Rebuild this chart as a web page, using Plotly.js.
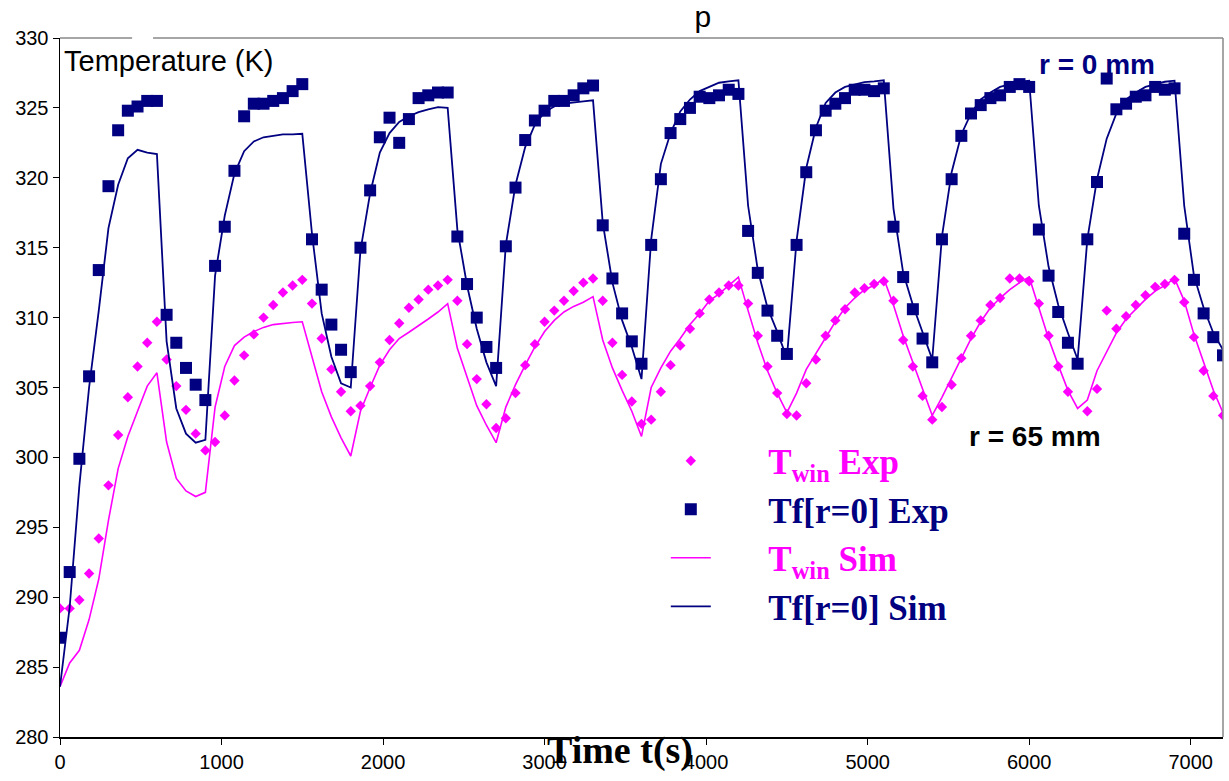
<!DOCTYPE html>
<html><head><meta charset="utf-8">
<script src="https://cdn.plot.ly/plotly-3.0.1.min.js"></script>
<style>html,body{margin:0;padding:0;background:#fff}#chart{width:1229px;height:781px}</style>
</head><body><div id="chart"></div>
<script>
// time (s) of each sample
const timeS = [0,60,120,180,240,300,360,420,480,540,600,660,720,780,840,900,960,1020,1080,1140,1200,1260,1320,1380,1440,1500,1560,1620,1680,1740,1800,1860,1920,1980,2040,2100,2160,2220,2280,2340,2400,2460,2520,2580,2640,2700,2760,2820,2880,2940,3000,3060,3120,3180,3240,3300,3360,3420,3480,3540,3600,3660,3720,3780,3840,3900,3960,4020,4080,4140,4200,4260,4320,4380,4440,4500,4560,4620,4680,4740,4800,4860,4920,4980,5040,5100,5160,5220,5280,5340,5400,5460,5520,5580,5640,5700,5760,5820,5880,5940,6000,6060,6120,6180,6240,6300,6360,6420,6480,6540,6600,6660,6720,6780,6840,6900,6960,7020,7080,7140,7200];

// Tf[r=0] experimental (K)
const tfExp = [287.1,291.8,299.9,305.8,313.4,319.4,323.4,324.8,325.1,325.5,325.5,
310.2,308.2,306.4,305.2,304.1,
313.7,316.5,320.5,324.4,325.3,325.3,325.5,325.7,326.2,326.7,
315.6,312.0,309.5,307.7,306.1,
315.0,319.1,322.9,324.3,322.5,324.2,325.7,325.9,326.1,326.1,
315.8,312.4,310.0,307.9,306.4,
315.1,319.3,322.7,324.1,324.8,325.5,325.5,325.9,326.4,326.6,
316.6,312.8,310.3,308.3,306.7,
315.2,319.9,323.2,324.2,325.0,325.8,325.7,325.9,326.3,326.0,
316.2,313.2,310.5,308.7,307.4,
315.2,320.4,323.4,324.8,325.3,325.7,326.3,326.3,326.2,326.4,
316.5,312.9,310.6,308.5,306.8,
315.6,319.9,323.0,324.6,325.2,325.7,325.9,326.5,326.7,326.5,
316.3,313.0,310.4,308.2,306.7,
315.6,319.7,327.1,324.9,325.3,325.8,325.9,326.5,326.3,326.4,
316.0,312.7,310.3,308.6,307.3];

// T_win experimental (K)
const twinExp = [289.2,289.2,289.8,291.7,294.2,298.0,301.6,304.3,306.5,308.2,309.7,
307.0,305.1,303.4,301.7,300.5,
301.1,303.0,305.5,307.3,308.8,310.0,310.9,311.8,312.3,312.7,
311.0,308.5,306.3,304.7,303.3,
303.7,305.1,306.8,308.4,309.6,310.7,311.3,312.0,312.3,312.7,
311.2,308.1,305.6,303.8,302.1,
302.8,304.6,306.6,308.1,309.7,310.5,311.2,311.9,312.5,312.8,
311.2,308.2,305.9,304.0,302.4,
302.7,304.7,306.6,308.0,309.2,310.3,311.3,311.8,312.3,312.3,
311.0,308.7,306.5,304.6,303.1,
303.0,305.3,307.0,308.7,309.8,310.6,311.8,312.1,312.4,312.6,
311.2,308.4,306.5,304.4,302.7,
303.6,305.2,307.1,308.7,309.8,310.9,311.4,312.8,312.8,312.6,
311.0,308.7,306.5,304.7,null,
303.3,304.9,310.5,309.2,310.1,310.9,311.6,312.2,312.4,312.7,
311.1,308.6,306.2,304.4,303.0];

// Tf[r=0] simulated (K)
const tfSim = [283.6,289.3,298.0,305.0,310.5,316.4,319.5,321.4,322.0,321.8,321.7,
308.3,303.5,301.7,301.05,301.25,
313.0,317.3,320.3,321.9,322.6,322.9,323.0,323.1,323.1,323.15,
316.0,310.3,307.2,305.3,305.0,
314.8,318.9,321.8,323.2,324.0,324.4,324.7,324.9,325.05,325.0,
316.3,312.3,309.2,306.8,305.1,
315.2,319.5,322.2,323.8,324.7,325.1,325.3,325.4,325.47,325.54,
316.8,312.5,309.8,307.9,305.6,
315.6,321.0,323.2,324.75,325.6,326.2,326.5,326.8,326.9,326.97,
318.0,313.4,310.7,309.0,307.1,
315.5,320.7,323.6,325.35,326.1,326.5,326.7,326.85,326.9,326.97,
317.8,313.2,310.9,308.9,307.0,
315.8,320.4,323.1,324.6,325.6,326.1,326.5,326.7,326.87,326.95,
318.0,313.65,310.9,308.9,307.0,
315.6,319.9,322.8,324.6,325.6,326.1,326.5,326.7,326.87,326.95,
318.0,313.0,310.7,308.9,307.7];

// T_win simulated (K)
const twinSim = [283.6,285.3,286.2,288.4,291.3,295.5,299.2,301.5,303.3,305.1,306.05,
301.1,298.5,297.6,297.2,297.5,
303.6,306.5,308.0,308.6,309.0,309.3,309.5,309.6,309.65,309.7,
307.1,304.7,302.9,301.4,300.1,
303.3,305.0,306.6,307.7,308.5,308.95,309.4,309.9,310.4,311.0,
307.8,305.7,303.7,302.3,301.05,
303.6,305.2,306.6,307.9,309.0,309.8,310.4,310.8,311.1,311.5,
308.4,306.4,304.8,303.3,301.5,
305.0,306.4,307.6,308.5,309.5,310.3,311.2,311.7,312.3,312.9,
310.5,308.2,306.2,304.6,303.2,
304.6,306.3,307.4,308.5,309.7,310.7,311.4,312.0,312.3,312.8,
310.9,308.7,306.8,304.9,303.0,
304.3,305.7,307.2,308.5,309.7,310.7,311.4,312.0,312.5,312.9,
310.7,308.5,306.6,304.8,303.5,
304.1,306.2,307.6,308.9,309.9,310.6,311.3,311.9,312.3,312.8,
311.2,308.8,306.8,304.8,303.2];

const xTicks = [0,1000,2000,3000,4000,5000,6000,7000];
const yTicks = [280,285,290,295,300,305,310,315,320,325,330];

const NAVY = '#000080', MAG = '#ff00ff';
const PAD = '\u00a0\u00a0\u00a0\u00a0\u00a0\u00a0';

const traces = [
  {x: timeS, y: twinExp, type:'scatter', mode:'markers', name:PAD+'<span style="color:#ff00ff">T<sub>win</sub> Exp</span>',
   marker:{symbol:'diamond', size:8, color:MAG}},
  {x: timeS, y: tfExp, type:'scatter', mode:'markers', name:PAD+'<span style="color:#000080">Tf[r=0] Exp</span>',
   marker:{symbol:'square', size:12, color:NAVY}},
  {x: timeS, y: twinSim, type:'scatter', mode:'lines', name:PAD+'<span style="color:#ff00ff">T<sub>win</sub> Sim</span>',
   line:{color:MAG, width:1.6}},
  {x: timeS, y: tfSim, type:'scatter', mode:'lines', name:PAD+'<span style="color:#000080">Tf[r=0] Sim</span>',
   line:{color:NAVY, width:1.8}}
];

const tickFont = {family:'Liberation Sans, Arial, sans-serif', size:20, color:'#000'};
const layout = {
  width:1229, height:781,
  paper_bgcolor:'#fff', plot_bgcolor:'#fff',
  margin:{l:60, r:6, t:38, b:44},
  title:{text:'p', x:0.5527, xanchor:'center', xref:'paper', y:0.979, yanchor:'middle',
         font:{family:'Liberation Sans, Arial, sans-serif', size:30, color:'#000'}},
  xaxis:{range:[0,7200], tickvals:xTicks, ticks:'outside', ticklen:6, tickcolor:'#000', tickwidth:1,
         showline:true, linecolor:'#000', linewidth:1.5, showgrid:false, zeroline:false, tickfont:tickFont},
  yaxis:{range:[280,330], tickvals:yTicks, ticks:'outside', ticklen:6, tickcolor:'#000', tickwidth:1,
         showline:true, linecolor:'#000', linewidth:1.5, showgrid:false, zeroline:false, tickfont:tickFont},
  xaxis2:{overlaying:'x', anchor:'y', range:[0,7200], tickvals:xTicks, ticks:'inside', ticklen:6, tickcolor:'#000',
          showticklabels:false, showline:false, showgrid:false, zeroline:false},
  yaxis2:{overlaying:'y', anchor:'x', range:[280,330], tickvals:yTicks, ticks:'inside', ticklen:6, tickcolor:'#000',
          showticklabels:false, showline:false, showgrid:false, zeroline:false},
  showlegend:true,
  legend:{x:0.5209, y:0.437, xanchor:'left', yanchor:'top', bgcolor:'rgba(0,0,0,0)', borderwidth:0,
          itemwidth:40, tracegroupgap:0,
          font:{family:'Liberation Serif, Times New Roman, serif', size:35, weight:'bold', color:NAVY}},
  shapes:[
    {type:'line', xref:'paper', yref:'paper', x0:0, x1:0.062, y0:1, y1:1, line:{color:'#888', width:1.5}},
    {type:'line', xref:'paper', yref:'paper', x0:0.08, x1:1, y0:1, y1:1, line:{color:'#888', width:1.5}},
    {type:'line', xref:'paper', yref:'paper', x0:1, x1:1, y0:0, y1:1, line:{color:'#888', width:1.5}}
  ],
  annotations:[
    {text:'Temperature (K)', xref:'paper', yref:'paper', x:0, xshift:2, y:0.9675, xanchor:'left', yanchor:'middle',
     showarrow:false, font:{family:'Liberation Sans, Arial, sans-serif', size:29, color:'#000'}},
    {text:'<b>r = 0 mm</b>', xref:'paper', yref:'paper', x:0.840, y:0.9618, xanchor:'left', yanchor:'middle',
     showarrow:false, font:{family:'Liberation Sans, Arial, sans-serif', size:28, color:NAVY}},
    {text:'<b>r = 65 mm</b>', xref:'paper', yref:'paper', x:0.7797, y:0.4306, xanchor:'left', yanchor:'middle',
     showarrow:false, font:{family:'Liberation Sans, Arial, sans-serif', size:28, color:'#000'}},
    {text:'<b>Time t(s)</b>', xref:'paper', yref:'paper', x:0.4811, y:-0.019, xanchor:'center', yanchor:'middle',
     showarrow:false, font:{family:'Liberation Serif, Times New Roman, serif', size:38, color:'#000'}}
  ]
};

Plotly.newPlot('chart', traces, layout, {displayModeBar:false, staticPlot:true});
</script>
</body></html>
